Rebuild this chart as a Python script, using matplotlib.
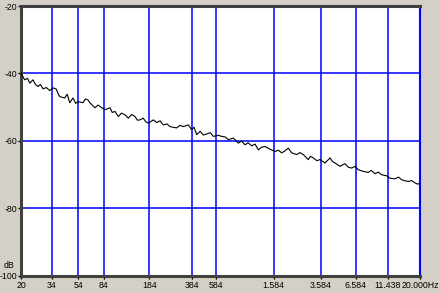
import matplotlib
matplotlib.use("Agg")
import matplotlib.pyplot as plt
from matplotlib import font_manager

# ---- data ----
freq_hz = [20, 21.3, 22.4, 23.3, 24.6, 25.6, 26.8, 28.0, 29.3, 31.0, 32.9, 35.0, 36.9, 38.0, 39.1,
           42.6, 44.5, 46.5, 49.2, 51.5, 53.7, 58.5, 61.0, 63.8, 66.1, 72.0, 76.0, 80.9, 85.6,
           93.4, 97.0, 101.8, 107.8, 114.0, 121, 128.2, 136, 143.9, 150, 157, 166, 173, 181,
           198, 210, 222, 235, 250, 264, 296, 314, 332, 362, 384, 400, 419, 444, 470, 498, 530,
           558, 609, 646, 690, 724, 789, 820, 861, 910, 967, 1020, 1085, 1150, 1217, 1290, 1367,
           1490, 1625, 1720, 1825, 1930, 2046, 2170, 2366, 2500, 2652, 2892, 3000, 3154, 3350,
           3542, 3862, 4211, 4400, 4592, 5007, 5460, 5800, 6131, 6500, 6874, 7496, 8174, 8600,
           9176, 9700, 10304, 11236, 11898, 12972, 13800, 14573, 15500, 16333, 17300, 18344,
           19200, 20000]
level_db = [-39.9, -41.9, -41.5, -42.9, -41.9, -43.2, -43.9, -43.3, -44.6, -44.2, -45.1, -44.3, -44.7, -46.0, -46.9,
            -47.3, -46.2, -48.7, -47.3, -48.9, -48.4, -48.7, -47.6, -47.9, -48.8, -50.2, -49.4, -50.2, -50.8,
            -50.2, -51.6, -51.3, -52.8, -51.8, -52.3, -53.3, -52.2, -52.8, -53.9, -53.8, -53.3, -54.3, -54.8,
            -53.8, -54.6, -54.1, -55.3, -55.0, -55.8, -56.2, -55.4, -55.8, -55.3, -56.7, -56.0, -58.2, -57.2, -58.3, -58.0, -57.6,
            -58.7, -58.4, -58.7, -58.9, -59.7, -59.2, -59.8, -60.7, -60.1, -61.2, -60.6, -61.5, -61.0, -62.7, -61.9, -61.7,
            -62.5, -63.2, -62.8, -63.6, -63.0, -62.2, -63.6, -64.1, -63.5, -64.1, -65.6, -64.6, -65.1, -65.9,
            -65.6, -66.6, -65.1, -66.2, -66.6, -67.6, -66.8, -67.9, -68.1, -67.6, -68.6, -69.1, -69.4, -68.8,
            -69.8, -69.3, -70.1, -70.4, -71.1, -71.3, -70.8, -71.6, -71.9, -72.1, -71.8, -72.5,
            -72.9, -72.5]
x_ticks = [20, 34, 54, 84, 184, 384, 584, 1584, 3584, 6584, 11438, 20000]
x_tick_labels = ["20", "34", "54", "84", "184", "384", "584", "1.584", "3.584", "6.584", "11.438", ""]
y_ticks = [-100, -80, -60, -40, -20]
y_tick_labels = ["-100", "-80", "-60", "-40", "-20"]

BG = "#d4d0c8"
BLUE = "#0000ff"
DARK = "#404040"
FP = font_manager.FontProperties(family="Liberation Sans", size=6.3)

fig = plt.figure(figsize=(4.40, 2.93), dpi=100, facecolor=BG)
ax = fig.add_axes([21 / 440, (293 - 275.5) / 293, 399 / 440, 269.5 / 293])
ax.set_facecolor("white")
ax.set_xscale("log")
ax.set_xlim(20, 20000)
ax.set_ylim(-100, -20)

ax.set_xticks(x_ticks)
ax.set_xticklabels(x_tick_labels, fontproperties=FP, color="black")
ax.xaxis.set_minor_locator(matplotlib.ticker.NullLocator())
ax.set_yticks(y_ticks)
ax.set_yticklabels(y_tick_labels, fontproperties=FP, color="black")
ax.tick_params(axis="y", length=2.2, width=1, color="black", pad=0.4)
ax.tick_params(axis="x", length=2.2, width=1, color="black", pad=2.0)

ax.grid(True, color=BLUE, linewidth=1.1, zorder=0)
ax.set_axisbelow(True)

for side in ["left", "top", "bottom"]:
    ax.spines[side].set_color(DARK)
    ax.spines[side].set_linewidth(2.2)
ax.spines["right"].set_color(BLUE)
ax.spines["right"].set_linewidth(1.5)

ax.plot(freq_hz, level_db, color="black", linewidth=0.8, zorder=3)

fig.text(439.5 / 440, 1 - 285.5 / 293, "20.000Hz", ha="right", va="center",
         fontproperties=FP, color="black")
fig.text(14 / 440, 1 - 266 / 293, "dB", ha="right", va="center",
         fontproperties=FP, color="black")

fig.savefig("out.png", dpi=100, facecolor=BG)
